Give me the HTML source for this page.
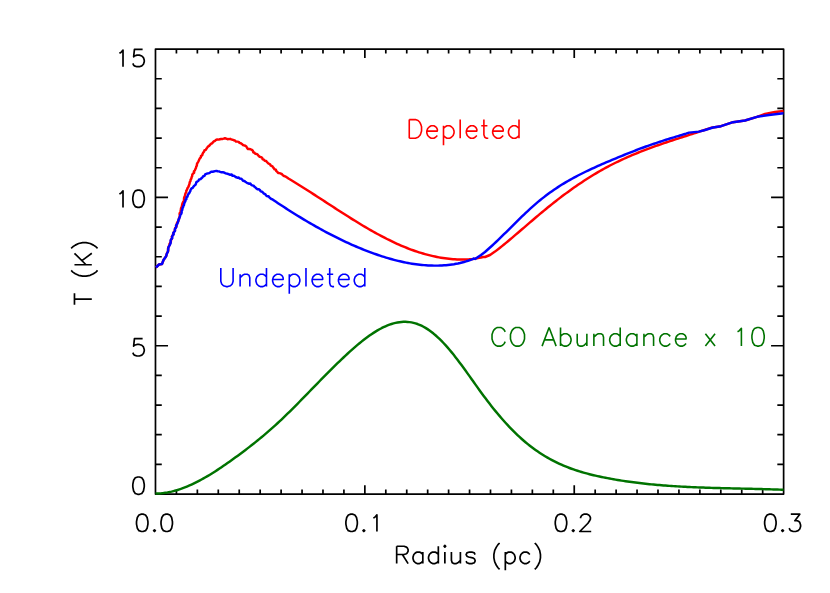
<!DOCTYPE html>
<html lang="en">
<head>
<meta charset="utf-8">
<title>T (K) vs Radius (pc)</title>
<style>
html,body{margin:0;padding:0;background:#fff;font-family:"Liberation Sans",sans-serif;}
body{width:830px;height:593px;overflow:hidden;}
svg{display:block;}
</style>
</head>
<body>
<svg width="830" height="593" viewBox="0 0 830 593">
<rect width="830" height="593" fill="#fff"/>
<g fill="none" stroke="#000" stroke-linecap="butt" stroke-linejoin="round">
<rect x="155.48" y="49.10" width="628.14" height="444.95" stroke-width="1.70"/>
</g>
<path d="M176.42 494.05 V489.60 M176.42 49.10 V53.55 M197.36 494.05 V489.60 M197.36 49.10 V53.55 M218.29 494.05 V489.60 M218.29 49.10 V53.55 M239.23 494.05 V489.60 M239.23 49.10 V53.55 M260.17 494.05 V489.60 M260.17 49.10 V53.55 M281.11 494.05 V489.60 M281.11 49.10 V53.55 M302.05 494.05 V489.60 M302.05 49.10 V53.55 M322.98 494.05 V489.60 M322.98 49.10 V53.55 M343.92 494.05 V489.60 M343.92 49.10 V53.55 M364.86 494.05 V485.15 M364.86 49.10 V58.00 M385.80 494.05 V489.60 M385.80 49.10 V53.55 M406.74 494.05 V489.60 M406.74 49.10 V53.55 M427.67 494.05 V489.60 M427.67 49.10 V53.55 M448.61 494.05 V489.60 M448.61 49.10 V53.55 M469.55 494.05 V489.60 M469.55 49.10 V53.55 M490.49 494.05 V489.60 M490.49 49.10 V53.55 M511.43 494.05 V489.60 M511.43 49.10 V53.55 M532.36 494.05 V489.60 M532.36 49.10 V53.55 M553.30 494.05 V489.60 M553.30 49.10 V53.55 M574.24 494.05 V485.15 M574.24 49.10 V58.00 M595.18 494.05 V489.60 M595.18 49.10 V53.55 M616.12 494.05 V489.60 M616.12 49.10 V53.55 M637.05 494.05 V489.60 M637.05 49.10 V53.55 M657.99 494.05 V489.60 M657.99 49.10 V53.55 M678.93 494.05 V489.60 M678.93 49.10 V53.55 M699.87 494.05 V489.60 M699.87 49.10 V53.55 M720.81 494.05 V489.60 M720.81 49.10 V53.55 M741.74 494.05 V489.60 M741.74 49.10 V53.55 M762.68 494.05 V489.60 M762.68 49.10 V53.55 M155.48 464.39 H161.78 M783.62 464.39 H777.32 M155.48 434.72 H161.78 M783.62 434.72 H777.32 M155.48 405.06 H161.78 M783.62 405.06 H777.32 M155.48 375.40 H161.78 M783.62 375.40 H777.32 M155.48 345.73 H168.03 M783.62 345.73 H771.07 M155.48 316.07 H161.78 M783.62 316.07 H777.32 M155.48 286.41 H161.78 M783.62 286.41 H777.32 M155.48 256.74 H161.78 M783.62 256.74 H777.32 M155.48 227.08 H161.78 M783.62 227.08 H777.32 M155.48 197.42 H168.03 M783.62 197.42 H771.07 M155.48 167.75 H161.78 M783.62 167.75 H777.32 M155.48 138.09 H161.78 M783.62 138.09 H777.32 M155.48 108.43 H161.78 M783.62 108.43 H777.32 M155.48 78.76 H161.78 M783.62 78.76 H777.32" fill="none" stroke="#000" stroke-width="1.70" stroke-linecap="butt"/>
<path d="M141.41 514.17 L138.96 515.00 L137.32 517.48 L136.51 521.60 L136.51 524.08 L137.32 528.20 L138.96 530.67 L141.41 531.50 L143.04 531.50 L145.49 530.67 L147.13 528.20 L147.94 524.08 L147.94 521.60 L147.13 517.48 L145.49 515.00 L143.04 514.17 Z M154.48 529.85 L153.66 530.67 L154.48 531.50 L155.30 530.67 Z M165.92 514.17 L163.47 515.00 L161.83 517.48 L161.02 521.60 L161.02 524.08 L161.83 528.20 L163.47 530.67 L165.92 531.50 L167.55 531.50 L170.00 530.67 L171.64 528.20 L172.45 524.08 L172.45 521.60 L171.64 517.48 L170.00 515.00 L167.55 514.17 Z M350.79 514.17 L348.34 515.00 L346.70 517.48 L345.89 521.60 L345.89 524.08 L346.70 528.20 L348.34 530.67 L350.79 531.50 L352.42 531.50 L354.87 530.67 L356.51 528.20 L357.32 524.08 L357.32 521.60 L356.51 517.48 L354.87 515.00 L352.42 514.17 Z M363.86 529.85 L363.04 530.67 L363.86 531.50 L364.68 530.67 Z M373.34 518.13 L374.81 517.31 L376.93 514.92 L376.93 531.50 M560.17 514.17 L557.72 515.00 L556.08 517.48 L555.27 521.60 L555.27 524.08 L556.08 528.20 L557.72 530.67 L560.17 531.50 L561.80 531.50 L564.25 530.67 L565.89 528.20 L566.70 524.08 L566.70 521.60 L565.89 517.48 L564.25 515.00 L561.80 514.17 Z M573.24 529.85 L572.42 530.67 L573.24 531.50 L574.06 530.67 Z M580.59 518.30 L580.59 517.48 L581.41 515.83 L582.23 515.00 L583.86 514.17 L587.13 514.17 L588.76 515.00 L589.58 515.83 L590.40 517.48 L590.40 519.12 L589.58 520.77 L587.95 523.25 L579.78 531.50 L591.21 531.50 M769.55 514.17 L767.10 515.00 L765.46 517.48 L764.65 521.60 L764.65 524.08 L765.46 528.20 L767.10 530.67 L769.55 531.50 L771.18 531.50 L773.63 530.67 L775.27 528.20 L776.08 524.08 L776.08 521.60 L775.27 517.48 L773.63 515.00 L771.18 514.17 Z M782.62 529.85 L781.80 530.67 L782.62 531.50 L783.44 530.67 Z M790.79 514.17 L799.78 514.17 L794.88 520.77 L797.33 520.77 L798.96 521.60 L799.78 522.42 L800.59 524.90 L800.59 526.55 L799.78 529.02 L798.14 530.67 L795.69 531.50 L793.24 531.50 L790.79 530.67 L789.97 529.85 L789.16 528.20 M137.71 476.98 L135.26 477.80 L133.63 480.28 L132.81 484.40 L132.81 486.88 L133.63 491.00 L135.26 493.48 L137.71 494.30 L139.35 494.30 L141.80 493.48 L143.43 491.00 L144.25 486.88 L144.25 484.40 L143.43 480.28 L141.80 477.80 L139.35 476.98 Z M142.61 338.68 L134.44 338.68 L133.63 346.10 L134.44 345.27 L136.90 344.45 L139.35 344.45 L141.80 345.27 L143.43 346.93 L144.25 349.40 L144.25 351.05 L143.43 353.52 L141.80 355.18 L139.35 356.00 L136.90 356.00 L134.44 355.18 L133.63 354.35 L132.81 352.70 M119.41 194.03 L120.88 193.21 L123.01 190.82 L123.01 207.40 M137.71 190.08 L135.26 190.90 L133.63 193.38 L132.81 197.50 L132.81 199.97 L133.63 204.10 L135.26 206.58 L137.71 207.40 L139.35 207.40 L141.80 206.58 L143.43 204.10 L144.25 199.97 L144.25 197.50 L143.43 193.38 L141.80 190.90 L139.35 190.08 Z M119.41 53.34 L120.88 52.51 L123.01 50.12 L123.01 66.70 M142.61 49.38 L134.44 49.38 L133.63 56.80 L134.44 55.98 L136.90 55.15 L139.35 55.15 L141.80 55.98 L143.43 57.62 L144.25 60.10 L144.25 61.75 L143.43 64.23 L141.80 65.88 L139.35 66.70 L136.90 66.70 L134.44 65.88 L133.63 65.05 L132.81 63.40 M396.67 546.27 L396.67 563.60 M396.67 546.27 L404.02 546.27 L406.47 547.10 L407.29 547.93 L408.11 549.58 L408.11 551.23 L407.29 552.88 L406.47 553.70 L404.02 554.52 L396.67 554.52 M402.39 554.52 L408.11 563.60 M422.81 552.05 L422.81 563.60 M422.81 554.52 L421.18 552.88 L419.54 552.05 L417.09 552.05 L415.46 552.88 L413.82 554.52 L413.01 557.00 L413.01 558.65 L413.82 561.12 L415.46 562.77 L417.09 563.60 L419.54 563.60 L421.18 562.77 L422.81 561.12 M438.33 546.27 L438.33 563.60 M438.33 554.52 L436.70 552.88 L435.07 552.05 L432.62 552.05 L430.98 552.88 L429.35 554.52 L428.53 557.00 L428.53 558.65 L429.35 561.12 L430.98 562.77 L432.62 563.60 L435.07 563.60 L436.70 562.77 L438.33 561.12 M444.05 546.27 L444.87 547.10 L445.69 546.27 L444.87 545.45 Z M444.87 552.05 L444.87 563.60 M451.41 552.05 L451.41 560.30 L452.22 562.77 L453.86 563.60 L456.31 563.60 L457.94 562.77 L460.39 560.30 M460.39 552.05 L460.39 563.60 M475.10 554.52 L474.28 552.88 L471.83 552.05 L469.38 552.05 L466.93 552.88 L466.11 554.52 L466.93 556.18 L468.56 557.00 L472.65 557.83 L474.28 558.65 L475.10 560.30 L475.10 561.12 L474.28 562.77 L471.83 563.60 L469.38 563.60 L466.93 562.77 L466.11 561.12 M499.61 542.98 L497.98 544.62 L496.34 547.10 L494.71 550.40 L493.89 554.52 L493.89 557.83 L494.71 561.95 L496.34 565.25 L497.98 567.73 L499.61 569.38 M505.33 552.05 L505.33 570.20 M505.33 554.52 L506.96 552.88 L508.60 552.05 L511.05 552.05 L512.68 552.88 L514.32 554.52 L515.13 557.00 L515.13 558.65 L514.32 561.12 L512.68 562.77 L511.05 563.60 L508.60 563.60 L506.96 562.77 L505.33 561.12 M529.84 554.52 L528.20 552.88 L526.57 552.05 L524.12 552.05 L522.49 552.88 L520.85 554.52 L520.03 557.00 L520.03 558.65 L520.85 561.12 L522.49 562.77 L524.12 563.60 L526.57 563.60 L528.20 562.77 L529.84 561.12 M534.74 542.98 L536.38 544.62 L538.01 547.10 L539.64 550.40 L540.46 554.52 L540.46 557.83 L539.64 561.95 L538.01 565.25 L536.38 567.73 L534.74 569.38 M74.47 299.05 L91.80 299.05 M74.47 304.77 L74.47 293.33 M71.17 270.46 L72.83 272.09 L75.30 273.72 L78.60 275.36 L82.72 276.17 L86.02 276.17 L90.15 275.36 L93.45 273.72 L95.92 272.09 L97.58 270.46 M74.47 264.74 L91.80 264.74 M74.47 253.30 L86.02 264.74 M81.90 260.65 L91.80 253.30 M71.17 248.40 L72.83 246.76 L75.30 245.13 L78.60 243.49 L82.72 242.68 L86.02 242.68 L90.15 243.49 L93.45 245.13 L95.92 246.76 L97.58 248.40" fill="none" stroke="#000" stroke-width="1.70" stroke-linecap="butt" stroke-linejoin="round"/>
<g fill="none" stroke-linejoin="round" stroke-linecap="butt" stroke-width="2.45">
<path d="M155.90 267.50 L159.00 264.50 L162.00 264.00 L163.50 260.00 L166.00 256.50 L166.43 255.27 L166.67 253.99 L167.15 252.77 L167.89 251.64 L168.33 250.42 L167.92 248.92 L168.42 247.72 L168.67 246.43 L169.49 245.33 L169.47 243.96 L170.30 242.86 L170.88 241.68 L170.88 240.32 L171.68 239.21 L171.97 237.94 L171.82 236.50 L172.84 235.49 L173.00 234.16 L173.63 233.01 L173.96 231.75 L174.84 230.69 L175.01 229.37 L175.16 228.04 L176.00 226.96 L176.68 225.82 L176.62 224.42 L176.94 223.17 L177.49 221.98 L178.45 220.91 L178.88 219.68 L178.94 218.34 L179.54 217.15 L179.80 215.87 L179.62 214.48 L179.63 213.15 L180.54 212.03 L180.75 210.75 L180.86 209.43 L181.03 208.13 L181.56 206.93 L182.00 205.70 L182.17 204.39 L182.56 203.15 L183.11 201.96 L183.91 200.84 L184.00 199.51 L184.05 198.17 L184.43 196.92 L185.03 195.75 L185.18 194.43 L185.59 193.20 L186.33 192.07 L186.29 190.69 L187.12 189.59 L187.41 188.32 L188.22 187.23 L188.72 186.03 L189.12 184.79 L189.57 183.57 L189.70 182.23 L190.46 181.13 L190.60 179.79 L191.32 178.68 L191.55 177.37 L192.15 176.21 L192.24 174.85 L192.91 173.71 L194.14 172.81 L193.90 171.30 L194.88 170.31 L195.35 169.10 L195.94 167.93 L196.20 166.63 L196.87 165.51 L196.93 164.08 L197.51 162.92 L198.22 161.82 L198.75 160.64 L199.27 159.45 L199.84 158.29 L200.81 157.30 L200.99 155.96 L202.30 155.13 L202.56 153.84 L203.15 152.69 L204.06 151.74 L204.43 150.41 L205.78 149.78 L206.46 148.69 L207.20 147.65 L207.92 146.55 L209.12 145.91 L209.97 144.91 L210.81 143.94 L211.99 143.39 L212.89 142.42 L213.81 141.45 L215.00 140.90 L215.99 139.97 L217.23 139.51 L218.65 139.62 L219.90 139.24 L221.09 139.01 L222.29 138.94 L223.61 138.66 L224.92 138.22 L226.21 138.70 L227.50 139.22 L228.79 139.09 L230.10 138.83 L231.28 139.38 L232.56 139.73 L233.71 140.26 L234.93 140.51 L236.01 141.64 L237.31 141.62 L238.67 141.85 L239.56 142.86 L240.82 143.26 L241.84 143.98 L242.84 144.96 L244.08 145.33 L245.29 145.76 L246.37 146.52 L247.00 147.73 L247.75 148.93 L249.24 149.04 L250.58 149.26 L251.78 149.85 L252.87 150.65 L253.23 152.25 L254.51 152.76 L255.29 153.87 L256.76 154.05 L257.80 154.82 L258.65 155.91 L259.61 156.77 L260.98 157.12 L262.15 157.75 L262.55 159.27 L263.94 159.64 L264.73 160.77 L266.17 160.92 L266.96 162.10 L267.91 162.94 L268.89 163.75 L270.10 164.38 L270.73 165.58 L272.11 166.05 L272.89 167.10 L273.75 168.07 L274.37 169.32 L275.87 169.61 L276.29 171.08 L277.30 171.89 L278.16 172.93 L279.61 173.14 L280.85 173.56 L281.99 174.18 L282.87 175.34 L283.95 176.03 L285.21 176.38 L286.32 177.06 L287.39 177.78 L288.45 178.55 L291.00 180.04 L293.00 181.25 L295.00 182.48 L297.00 183.71 L299.00 184.96 L301.00 186.21 L303.00 187.47 L305.00 188.74 L307.00 190.01 L309.00 191.29 L311.00 192.57 L313.00 193.86 L315.00 195.15 L317.00 196.44 L319.00 197.74 L321.00 199.04 L323.00 200.34 L325.00 201.64 L327.00 202.94 L329.00 204.24 L331.00 205.54 L333.00 206.84 L335.00 208.14 L337.00 209.43 L339.00 210.72 L341.00 212.00 L343.00 213.28 L345.00 214.56 L347.00 215.82 L349.00 217.09 L351.00 218.34 L353.00 219.59 L355.00 220.83 L357.00 222.05 L359.00 223.27 L361.00 224.48 L363.00 225.68 L365.00 226.87 L367.00 228.04 L369.00 229.20 L371.00 230.35 L373.00 231.48 L375.00 232.60 L377.00 233.70 L379.00 234.79 L381.00 235.86 L383.00 236.92 L385.00 237.95 L387.00 238.97 L389.00 239.97 L391.00 240.95 L393.00 241.91 L395.00 242.85 L397.00 243.76 L399.00 244.66 L401.00 245.53 L403.00 246.38 L405.00 247.21 L407.00 248.01 L409.00 248.79 L411.00 249.54 L413.00 250.27 L415.00 250.98 L417.00 251.66 L419.00 252.31 L421.00 252.94 L423.00 253.54 L425.00 254.11 L427.00 254.66 L429.00 255.17 L431.00 255.66 L433.00 256.12 L435.00 256.56 L437.00 256.96 L439.00 257.34 L441.00 257.68 L443.00 258.00 L445.00 258.29 L447.00 258.55 L449.00 258.78 L451.00 258.99 L453.00 259.16 L455.00 259.30 L457.00 259.42 L459.00 259.50 L461.00 259.54 L463.00 259.55 L465.00 259.52 L467.00 259.44 L469.00 259.32 L471.00 259.15 L473.00 258.93 L475.00 258.65 L477.00 258.31 L479.00 257.92 L481.00 257.46 L483.00 256.94 L485.00 257.00 L490.00 255.00 L495.00 251.60 L500.00 247.74 L502.00 246.13 L504.00 244.50 L506.00 242.85 L508.00 241.19 L510.00 239.51 L512.00 237.83 L514.00 236.13 L516.00 234.43 L518.00 232.72 L520.00 231.01 L522.00 229.29 L524.00 227.57 L526.00 225.85 L528.00 224.13 L530.00 222.41 L532.00 220.70 L534.00 218.99 L536.00 217.29 L538.00 215.60 L540.00 213.91 L542.00 212.24 L544.00 210.58 L546.00 208.94 L548.00 207.31 L550.00 205.70 L552.00 204.10 L554.00 202.52 L556.00 200.95 L558.00 199.40 L560.00 197.87 L562.00 196.35 L564.00 194.85 L566.00 193.37 L568.00 191.90 L570.00 190.45 L572.00 189.02 L574.00 187.61 L576.00 186.22 L578.00 184.84 L580.00 183.49 L582.00 182.15 L584.00 180.83 L586.00 179.53 L588.00 178.25 L590.00 176.99 L592.00 175.75 L594.00 174.54 L596.00 173.34 L598.00 172.16 L600.00 171.00 L602.00 169.87 L604.00 168.75 L606.00 167.66 L608.00 166.59 L610.00 165.54 L612.00 164.51 L614.00 163.50 L616.00 162.51 L618.00 161.54 L620.00 160.59 L622.00 159.65 L624.00 158.74 L626.00 157.84 L628.00 156.95 L630.00 156.08 L632.00 155.23 L634.00 154.39 L636.00 153.56 L638.00 152.75 L640.00 151.95 L642.00 151.17 L644.00 150.39 L646.00 149.63 L648.00 148.88 L650.00 148.13 L652.00 147.40 L654.00 146.68 L656.00 145.97 L658.00 145.26 L660.00 144.56 L662.00 143.87 L664.00 143.19 L666.00 142.51 L668.00 141.84 L670.00 141.17 L672.00 140.51 L674.00 139.85 L676.00 139.20 L678.00 138.54 L680.00 137.89 L682.00 137.25 L684.00 136.60 L686.00 135.96 L688.00 135.31 L690.00 134.66 L692.00 134.02 L694.00 133.37 L696.00 132.72 L698.00 132.07 L700.00 131.42 L703.00 130.50 L711.00 127.80 L713.00 127.50 L721.00 126.20 L733.00 122.20 L745.00 120.50 L757.00 116.80 L765.00 114.00 L775.00 112.00 L783.50 111.00" stroke="#ff0000"/>
<path d="M155.90 267.50 L159.00 264.50 L162.00 264.00 L163.50 260.00 L166.00 256.50 L166.45 255.28 L166.74 254.01 L167.30 252.82 L167.96 251.66 L167.95 250.30 L168.32 249.05 L168.28 247.67 L168.90 246.50 L169.55 245.35 L170.15 244.18 L170.66 242.98 L170.60 241.60 L170.65 240.25 L171.27 239.08 L172.30 238.05 L172.02 236.57 L172.73 235.45 L173.69 234.43 L173.23 232.86 L174.28 231.87 L175.10 230.78 L174.80 229.29 L175.56 228.18 L176.37 227.09 L176.01 225.58 L176.85 224.50 L177.55 223.39 L177.97 222.15 L178.27 220.87 L178.50 219.56 L179.29 218.48 L179.61 217.22 L180.13 216.02 L180.43 214.75 L181.33 213.68 L181.67 212.42 L181.61 211.03 L182.29 209.89 L182.39 208.55 L182.99 207.38 L183.29 206.11 L184.02 204.98 L184.13 203.65 L184.64 202.45 L185.32 201.31 L185.41 199.96 L186.48 199.03 L186.35 197.51 L187.48 196.63 L187.75 195.31 L188.34 194.14 L189.21 193.15 L189.81 191.99 L190.40 190.83 L190.72 189.49 L191.51 188.44 L192.83 187.78 L193.45 186.62 L194.38 185.69 L195.38 184.83 L195.98 183.66 L196.30 182.22 L197.36 181.42 L198.47 180.67 L199.11 179.47 L200.60 179.13 L201.49 178.24 L202.45 177.39 L203.24 176.28 L204.52 175.83 L205.14 174.44 L206.37 173.93 L207.57 173.41 L208.88 173.21 L210.03 172.57 L211.17 171.83 L212.50 171.72 L213.77 171.45 L215.05 171.17 L216.36 170.86 L217.67 171.23 L218.97 171.37 L220.19 171.86 L221.43 172.21 L222.76 172.24 L224.04 172.50 L225.20 173.17 L226.42 173.64 L227.73 173.77 L228.94 174.25 L230.10 174.78 L231.66 174.41 L232.46 175.79 L233.92 175.73 L235.01 176.47 L236.08 177.28 L237.32 177.69 L238.76 177.59 L239.75 178.59 L241.19 178.66 L242.15 179.61 L243.00 180.70 L244.34 181.01 L245.38 181.81 L246.48 182.52 L247.60 183.19 L248.79 183.71 L250.34 183.58 L251.22 184.66 L252.30 185.39 L253.64 185.70 L254.46 186.84 L255.53 187.59 L256.50 188.49 L257.52 189.27 L259.07 189.34 L260.02 190.25 L260.73 191.44 L262.09 191.80 L263.08 192.63 L263.93 193.69 L265.25 194.06 L265.94 195.35 L266.96 196.16 L268.55 196.15 L269.31 197.33 L270.27 198.23 L271.33 198.99 L272.59 199.44 L273.65 200.20 L276.00 201.81 L278.00 203.15 L280.00 204.47 L282.00 205.79 L284.00 207.09 L286.00 208.39 L288.00 209.67 L290.00 210.95 L292.00 212.21 L294.00 213.47 L296.00 214.71 L298.00 215.95 L300.00 217.17 L302.00 218.39 L304.00 219.59 L306.00 220.78 L308.00 221.96 L310.00 223.13 L312.00 224.29 L314.00 225.43 L316.00 226.57 L318.00 227.69 L320.00 228.80 L322.00 229.89 L324.00 230.98 L326.00 232.05 L328.00 233.11 L330.00 234.15 L332.00 235.19 L334.00 236.21 L336.00 237.21 L338.00 238.21 L340.00 239.18 L342.00 240.15 L344.00 241.10 L346.00 242.04 L348.00 242.96 L350.00 243.87 L352.00 244.76 L354.00 245.64 L356.00 246.50 L358.00 247.35 L360.00 248.18 L362.00 249.00 L364.00 249.80 L366.00 250.59 L368.00 251.36 L370.00 252.12 L372.00 252.85 L374.00 253.58 L376.00 254.28 L378.00 254.97 L380.00 255.64 L382.00 256.29 L384.00 256.93 L386.00 257.55 L388.00 258.14 L390.00 258.72 L392.00 259.28 L394.00 259.82 L396.00 260.34 L398.00 260.83 L400.00 261.31 L402.00 261.76 L404.00 262.19 L406.00 262.59 L408.00 262.98 L410.00 263.34 L412.00 263.67 L414.00 263.98 L416.00 264.27 L418.00 264.53 L420.00 264.76 L422.00 264.97 L424.00 265.14 L426.00 265.30 L428.00 265.42 L430.00 265.52 L432.00 265.58 L434.00 265.62 L436.00 265.63 L438.00 265.61 L440.00 265.55 L442.00 265.47 L444.00 265.34 L446.00 265.19 L448.00 264.99 L450.00 264.76 L452.00 264.49 L454.00 264.18 L456.00 263.82 L458.00 263.43 L460.00 262.99 L462.00 262.50 L464.00 261.97 L466.00 261.39 L468.00 260.75 L470.00 260.06 L472.00 259.31 L474.00 258.49 L475.00 259.00 L481.00 255.00 L485.00 252.00 L490.00 247.53 L492.00 245.72 L494.00 243.87 L496.00 241.99 L498.00 240.08 L500.00 238.15 L502.00 236.20 L504.00 234.24 L506.00 232.26 L508.00 230.28 L510.00 228.29 L512.00 226.30 L514.00 224.31 L516.00 222.33 L518.00 220.36 L520.00 218.40 L522.00 216.46 L524.00 214.54 L526.00 212.64 L528.00 210.77 L530.00 208.92 L532.00 207.11 L534.00 205.34 L536.00 203.61 L538.00 201.92 L540.00 200.27 L542.00 198.66 L544.00 197.09 L546.00 195.56 L548.00 194.07 L550.00 192.61 L552.00 191.19 L554.00 189.80 L556.00 188.44 L558.00 187.12 L560.00 185.83 L562.00 184.58 L564.00 183.35 L566.00 182.15 L568.00 180.98 L570.00 179.84 L572.00 178.72 L574.00 177.63 L576.00 176.56 L578.00 175.51 L580.00 174.48 L582.00 173.48 L584.00 172.49 L586.00 171.51 L588.00 170.56 L590.00 169.61 L592.00 168.68 L594.00 167.77 L596.00 166.86 L598.00 165.97 L600.00 165.09 L602.00 164.22 L604.00 163.35 L606.00 162.49 L608.00 161.64 L610.00 160.80 L612.00 159.96 L614.00 159.13 L616.00 158.30 L618.00 157.47 L620.00 156.64 L622.00 155.82 L624.00 155.01 L626.00 154.20 L628.00 153.39 L630.00 152.59 L632.00 151.80 L634.00 151.02 L636.00 150.25 L638.00 149.48 L640.00 148.72 L642.00 147.98 L644.00 147.24 L646.00 146.52 L648.00 145.80 L650.00 145.10 L652.00 144.41 L654.00 143.72 L656.00 143.05 L658.00 142.38 L660.00 141.72 L662.00 141.07 L664.00 140.43 L666.00 139.79 L668.00 139.16 L670.00 138.53 L672.00 137.91 L674.00 137.30 L676.00 136.68 L678.00 136.07 L680.00 135.47 L682.00 134.86 L684.00 134.26 L686.00 133.66 L689.00 132.60 L699.00 131.60 L705.00 130.00 L713.00 127.50 L721.00 126.20 L733.00 122.20 L745.00 120.50 L757.00 116.80 L769.00 115.00 L783.50 113.20" stroke="#0000ff"/>
<path d="M155.50 493.59 L157.50 493.54 L159.50 493.43 L161.50 493.26 L163.50 493.04 L165.50 492.75 L167.50 492.42 L169.50 492.03 L171.50 491.59 L173.50 491.09 L175.50 490.55 L177.50 489.96 L179.50 489.32 L181.50 488.64 L183.50 487.91 L185.50 487.13 L187.50 486.32 L189.50 485.46 L191.50 484.57 L193.50 483.63 L195.50 482.66 L197.50 481.66 L199.50 480.61 L201.50 479.54 L203.50 478.43 L205.50 477.29 L207.50 476.13 L209.50 474.93 L211.50 473.71 L213.50 472.46 L215.50 471.18 L217.50 469.88 L219.50 468.57 L221.50 467.22 L223.50 465.86 L225.50 464.49 L227.50 463.09 L229.50 461.68 L231.50 460.25 L233.50 458.81 L235.50 457.36 L237.50 455.90 L239.50 454.42 L241.50 452.94 L243.50 451.44 L245.50 449.93 L247.50 448.40 L249.50 446.86 L251.50 445.30 L253.50 443.73 L255.50 442.14 L257.50 440.53 L259.50 438.90 L261.50 437.25 L263.50 435.58 L265.50 433.89 L267.50 432.18 L269.50 430.44 L271.50 428.68 L273.50 426.90 L275.50 425.09 L277.50 423.26 L279.50 421.40 L281.50 419.52 L283.50 417.61 L285.50 415.69 L287.50 413.74 L289.50 411.78 L291.50 409.80 L293.50 407.81 L295.50 405.80 L297.50 403.78 L299.50 401.76 L301.50 399.72 L303.50 397.68 L305.50 395.63 L307.50 393.57 L309.50 391.51 L311.50 389.46 L313.50 387.40 L315.50 385.34 L317.50 383.29 L319.50 381.24 L321.50 379.20 L323.50 377.16 L325.50 375.13 L327.50 373.11 L329.50 371.11 L331.50 369.11 L333.50 367.13 L335.50 365.17 L337.50 363.22 L339.50 361.29 L341.50 359.38 L343.50 357.49 L345.50 355.62 L347.50 353.77 L349.50 351.95 L351.50 350.15 L353.50 348.38 L355.50 346.64 L357.50 344.94 L359.50 343.27 L361.50 341.65 L363.50 340.06 L365.50 338.53 L367.50 337.04 L369.50 335.60 L371.50 334.21 L373.50 332.89 L375.50 331.62 L377.50 330.42 L379.50 329.28 L381.50 328.21 L383.50 327.22 L385.50 326.30 L387.50 325.45 L389.50 324.69 L391.50 324.01 L393.50 323.42 L395.50 322.91 L397.50 322.50 L399.50 322.18 L401.50 321.96 L403.50 321.84 L405.50 321.82 L407.50 321.91 L409.50 322.11 L411.50 322.41 L413.50 322.83 L415.50 323.37 L417.50 324.02 L419.50 324.80 L421.50 325.70 L423.50 326.72 L425.50 327.87 L427.50 329.12 L429.50 330.50 L431.50 331.98 L433.50 333.57 L435.50 335.26 L437.50 337.05 L439.50 338.94 L441.50 340.92 L443.50 343.00 L445.50 345.16 L447.50 347.40 L449.50 349.73 L451.50 352.13 L453.50 354.60 L455.50 357.14 L457.50 359.74 L459.50 362.39 L461.50 365.09 L463.50 367.82 L465.50 370.58 L467.50 373.36 L469.50 376.16 L471.50 378.97 L473.50 381.79 L475.50 384.60 L477.50 387.40 L479.50 390.18 L481.50 392.94 L483.50 395.66 L485.50 398.35 L487.50 400.99 L489.50 403.59 L491.50 406.15 L493.50 408.66 L495.50 411.12 L497.50 413.54 L499.50 415.91 L501.50 418.23 L503.50 420.51 L505.50 422.74 L507.50 424.91 L509.50 427.04 L511.50 429.12 L513.50 431.14 L515.50 433.12 L517.50 435.04 L519.50 436.91 L521.50 438.73 L523.50 440.49 L525.50 442.20 L527.50 443.85 L529.50 445.45 L531.50 447.00 L533.50 448.50 L535.50 449.95 L537.50 451.35 L539.50 452.70 L541.50 454.01 L543.50 455.26 L545.50 456.48 L547.50 457.65 L549.50 458.78 L551.50 459.87 L553.50 460.92 L555.50 461.93 L557.50 462.90 L559.50 463.83 L561.50 464.73 L563.50 465.60 L565.50 466.43 L567.50 467.23 L569.50 468.00 L571.50 468.74 L573.50 469.45 L575.50 470.13 L577.50 470.78 L579.50 471.41 L581.50 472.02 L583.50 472.60 L585.50 473.16 L587.50 473.69 L589.50 474.21 L591.50 474.71 L593.50 475.19 L595.50 475.66 L597.50 476.11 L599.50 476.54 L601.50 476.96 L603.50 477.37 L605.50 477.77 L607.50 478.15 L609.50 478.53 L611.50 478.90 L613.50 479.25 L615.50 479.60 L617.50 479.94 L619.50 480.27 L621.50 480.59 L623.50 480.90 L625.50 481.20 L627.50 481.49 L629.50 481.77 L631.50 482.05 L633.50 482.31 L635.50 482.57 L637.50 482.82 L639.50 483.07 L641.50 483.30 L643.50 483.53 L645.50 483.75 L647.50 483.96 L649.50 484.17 L651.50 484.37 L653.50 484.56 L655.50 484.74 L657.50 484.92 L659.50 485.09 L661.50 485.26 L663.50 485.42 L665.50 485.57 L667.50 485.72 L669.50 485.87 L671.50 486.00 L673.50 486.14 L675.50 486.26 L677.50 486.38 L679.50 486.50 L681.50 486.61 L683.50 486.72 L685.50 486.83 L687.50 486.93 L689.50 487.02 L691.50 487.11 L693.50 487.20 L695.50 487.29 L697.50 487.37 L699.50 487.45 L701.50 487.52 L703.50 487.59 L705.50 487.66 L707.50 487.73 L709.50 487.79 L711.50 487.85 L713.50 487.91 L715.50 487.97 L717.50 488.03 L719.50 488.08 L721.50 488.13 L723.50 488.18 L725.50 488.23 L727.50 488.28 L729.50 488.33 L731.50 488.37 L733.50 488.42 L735.50 488.46 L737.50 488.51 L739.50 488.55 L741.50 488.60 L743.50 488.64 L745.50 488.69 L747.50 488.73 L749.50 488.78 L751.50 488.83 L753.50 488.88 L755.50 488.92 L757.50 488.97 L759.50 489.03 L761.50 489.08 L763.50 489.13 L765.50 489.19 L767.50 489.25 L769.50 489.31 L771.50 489.37 L773.50 489.43 L775.50 489.50 L777.50 489.57 L779.50 489.65 L781.50 489.72 L783.50 489.80" stroke="#007300"/>
</g>
<g fill="none" stroke-width="1.60" stroke-linecap="butt" stroke-linejoin="round">
<path d="M409.26 119.61 L409.26 138.20 M409.26 119.61 L415.41 119.61 L418.04 120.50 L419.80 122.27 L420.68 124.04 L421.55 126.69 L421.55 131.12 L420.68 133.77 L419.80 135.54 L418.04 137.31 L415.41 138.20 L409.26 138.20 M426.82 131.12 L437.36 131.12 L437.36 129.35 L436.48 127.58 L435.60 126.69 L433.85 125.81 L431.21 125.81 L429.46 126.69 L427.70 128.46 L426.82 131.12 L426.82 132.89 L427.70 135.54 L429.46 137.31 L431.21 138.20 L433.85 138.20 L435.60 137.31 L437.36 135.54 M443.50 125.81 L443.50 145.28 M443.50 128.46 L445.26 126.69 L447.02 125.81 L449.65 125.81 L451.41 126.69 L453.16 128.46 L454.04 131.12 L454.04 132.89 L453.16 135.54 L451.41 137.31 L449.65 138.20 L447.02 138.20 L445.26 137.31 L443.50 135.54 M460.19 119.61 L460.19 138.20 M466.33 131.12 L476.87 131.12 L476.87 129.35 L475.99 127.58 L475.11 126.69 L473.36 125.81 L470.72 125.81 L468.97 126.69 L467.21 128.46 L466.33 131.12 L466.33 132.89 L467.21 135.54 L468.97 137.31 L470.72 138.20 L473.36 138.20 L475.11 137.31 L476.87 135.54 M483.89 119.61 L483.89 134.66 L484.77 137.31 L486.53 138.20 L488.28 138.20 M481.26 125.81 L487.40 125.81 M492.67 131.12 L503.21 131.12 L503.21 129.35 L502.33 127.58 L501.45 126.69 L499.70 125.81 L497.06 125.81 L495.31 126.69 L493.55 128.46 L492.67 131.12 L492.67 132.89 L493.55 135.54 L495.31 137.31 L497.06 138.20 L499.70 138.20 L501.45 137.31 L503.21 135.54 M519.01 119.61 L519.01 138.20 M519.01 128.46 L517.26 126.69 L515.50 125.81 L512.87 125.81 L511.11 126.69 L509.35 128.46 L508.48 131.12 L508.48 132.89 L509.35 135.54 L511.11 137.31 L512.87 138.20 L515.50 138.20 L517.26 137.31 L519.01 135.54" stroke="#ff0000"/>
<path d="M220.81 268.02 L220.81 281.29 L221.69 283.95 L223.45 285.72 L226.08 286.60 L227.84 286.60 L230.47 285.72 L232.23 283.95 L233.10 281.29 L233.10 268.02 M240.13 274.21 L240.13 286.60 M240.13 277.75 L242.76 275.10 L244.52 274.21 L247.15 274.21 L248.91 275.10 L249.79 277.75 L249.79 286.60 M266.47 268.02 L266.47 286.60 M266.47 276.87 L264.71 275.10 L262.96 274.21 L260.32 274.21 L258.57 275.10 L256.81 276.87 L255.93 279.52 L255.93 281.29 L256.81 283.95 L258.57 285.72 L260.32 286.60 L262.96 286.60 L264.71 285.72 L266.47 283.95 M272.61 279.52 L283.15 279.52 L283.15 277.75 L282.27 275.98 L281.39 275.10 L279.64 274.21 L277.00 274.21 L275.25 275.10 L273.49 276.87 L272.61 279.52 L272.61 281.29 L273.49 283.95 L275.25 285.72 L277.00 286.60 L279.64 286.60 L281.39 285.72 L283.15 283.95 M289.30 274.21 L289.30 293.68 M289.30 276.87 L291.05 275.10 L292.81 274.21 L295.44 274.21 L297.20 275.10 L298.95 276.87 L299.83 279.52 L299.83 281.29 L298.95 283.95 L297.20 285.72 L295.44 286.60 L292.81 286.60 L291.05 285.72 L289.30 283.95 M305.98 268.02 L305.98 286.60 M312.12 279.52 L322.66 279.52 L322.66 277.75 L321.78 275.98 L320.90 275.10 L319.15 274.21 L316.51 274.21 L314.76 275.10 L313.00 276.87 L312.12 279.52 L312.12 281.29 L313.00 283.95 L314.76 285.72 L316.51 286.60 L319.15 286.60 L320.90 285.72 L322.66 283.95 M329.68 268.02 L329.68 283.06 L330.56 285.72 L332.32 286.60 L334.07 286.60 M327.05 274.21 L333.20 274.21 M338.46 279.52 L349.00 279.52 L349.00 277.75 L348.12 275.98 L347.24 275.10 L345.49 274.21 L342.85 274.21 L341.10 275.10 L339.34 276.87 L338.46 279.52 L338.46 281.29 L339.34 283.95 L341.10 285.72 L342.85 286.60 L345.49 286.60 L347.24 285.72 L349.00 283.95 M364.80 268.02 L364.80 286.60 M364.80 276.87 L363.05 275.10 L361.29 274.21 L358.66 274.21 L356.90 275.10 L355.15 276.87 L354.27 279.52 L354.27 281.29 L355.15 283.95 L356.90 285.72 L358.66 286.60 L361.29 286.60 L363.05 285.72 L364.80 283.95" stroke="#0000ff"/>
<path d="M505.20 331.94 L504.33 330.17 L502.57 328.40 L500.81 327.52 L497.30 327.52 L495.55 328.40 L493.79 330.17 L492.91 331.94 L492.03 334.60 L492.03 339.02 L492.91 341.68 L493.79 343.45 L495.55 345.22 L497.30 346.10 L500.81 346.10 L502.57 345.22 L504.33 343.45 L505.20 341.68 M515.74 327.52 L513.98 328.40 L512.23 330.17 L511.35 331.94 L510.47 334.60 L510.47 339.02 L511.35 341.68 L512.23 343.45 L513.98 345.22 L515.74 346.10 L519.25 346.10 L521.01 345.22 L522.76 343.45 L523.64 341.68 L524.52 339.02 L524.52 334.60 L523.64 331.94 L522.76 330.17 L521.01 328.40 L519.25 327.52 Z M549.10 327.52 L542.08 346.10 M549.10 327.52 L556.13 346.10 M544.71 339.91 L553.49 339.91 M560.52 327.52 L560.52 346.10 M560.52 336.37 L562.27 334.60 L564.03 333.71 L566.66 333.71 L568.42 334.60 L570.18 336.37 L571.05 339.02 L571.05 340.79 L570.18 343.45 L568.42 345.22 L566.66 346.10 L564.03 346.10 L562.27 345.22 L560.52 343.45 M577.20 333.71 L577.20 342.56 L578.08 345.22 L579.83 346.10 L582.47 346.10 L584.22 345.22 L586.86 342.56 M586.86 333.71 L586.86 346.10 M593.88 333.71 L593.88 346.10 M593.88 337.25 L596.52 334.60 L598.27 333.71 L600.91 333.71 L602.66 334.60 L603.54 337.25 L603.54 346.10 M620.22 327.52 L620.22 346.10 M620.22 336.37 L618.47 334.60 L616.71 333.71 L614.08 333.71 L612.32 334.60 L610.56 336.37 L609.69 339.02 L609.69 340.79 L610.56 343.45 L612.32 345.22 L614.08 346.10 L616.71 346.10 L618.47 345.22 L620.22 343.45 M636.90 333.71 L636.90 346.10 M636.90 336.37 L635.15 334.60 L633.39 333.71 L630.76 333.71 L629.00 334.60 L627.25 336.37 L626.37 339.02 L626.37 340.79 L627.25 343.45 L629.00 345.22 L630.76 346.10 L633.39 346.10 L635.15 345.22 L636.90 343.45 M643.93 333.71 L643.93 346.10 M643.93 337.25 L646.56 334.60 L648.32 333.71 L650.95 333.71 L652.71 334.60 L653.59 337.25 L653.59 346.10 M670.27 336.37 L668.51 334.60 L666.76 333.71 L664.12 333.71 L662.37 334.60 L660.61 336.37 L659.73 339.02 L659.73 340.79 L660.61 343.45 L662.37 345.22 L664.12 346.10 L666.76 346.10 L668.51 345.22 L670.27 343.45 M675.54 339.02 L686.07 339.02 L686.07 337.25 L685.19 335.48 L684.32 334.60 L682.56 333.71 L679.93 333.71 L678.17 334.60 L676.41 336.37 L675.54 339.02 L675.54 340.79 L676.41 343.45 L678.17 345.22 L679.93 346.10 L682.56 346.10 L684.32 345.22 L686.07 343.45 M705.39 333.71 L715.05 346.10 M715.05 333.71 L705.39 346.10 M737.52 331.76 L739.10 330.88 L741.39 328.31 L741.39 346.10 M757.19 327.52 L754.56 328.40 L752.80 331.06 L751.92 335.48 L751.92 338.14 L752.80 342.56 L754.56 345.22 L757.19 346.10 L758.95 346.10 L761.58 345.22 L763.34 342.56 L764.21 338.14 L764.21 335.48 L763.34 331.06 L761.58 328.40 L758.95 327.52 Z" stroke="#007300"/>
</g>
</svg>
</body>
</html>
